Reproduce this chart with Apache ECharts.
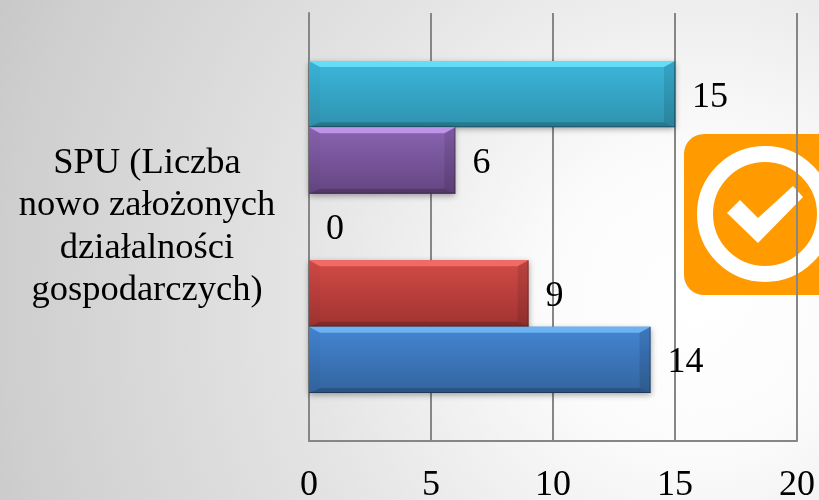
<!DOCTYPE html>
<html><head><meta charset="utf-8">
<style>html,body{margin:0;padding:0;background:#fff}#c{width:819px;height:500px}</style>
<script src="https://cdn.jsdelivr.net/npm/echarts@6/dist/echarts.min.js"></script>
</head><body><div id="c"></div>
<script>
const categories = ['SPU (Liczba\nnowo założonych\ndziałalności\ngospodarczych)'];
const seriesNames = ['Seria 5', 'Seria 4', 'Seria 3', 'Seria 2', 'Seria 1'];
const seriesValues = [[15], [6], [0], [9], [14]];
const tickValues = [0, 5, 10, 15, 20];
const bodyTop = ['#3cb7dc', '#8a64b2', '#9bbb59', '#d24b47', '#4485d3'];
const bodyBottom = ['#2f92ae', '#654580', '#76923c', '#a03331', '#33659e'];
const bevelTop = ['#62def7', '#bd94e8', '#c6e57e', '#f26a66', '#6cb2f3'];
const gapRatio = 0.224;
const font = '"Liberation Serif","Times New Roman",serif';
const chart = echarts.init(document.getElementById('c'), null, {renderer: 'canvas'});
const bevelData = [];
seriesValues.forEach((vals, s) => vals.forEach((v, c) => { if (v > 0) bevelData.push([v, c, s]); }));
function bevel(params, api) {
  const end = api.coord([api.value(0), api.value(1)]);
  const start = api.coord([0, api.value(1)]);
  const band = api.size([0, 1])[1];
  const h = band * (1 - gapRatio) / seriesValues.length;
  const s = api.value(2);
  const y1 = start[1] - band * (1 - gapRatio) / 2 + h * s;
  const y2 = y1 + h, x1 = start[0], x2 = end[0];
  const sx = 11, t = 6, b = 5;
  const poly = (points, fill) => ({type: 'polygon', shape: {points}, style: {fill}, silent: true});
  return {type: 'group', children: [
    poly([[x1, y1], [x2, y1], [x2 - sx, y1 + t], [x1 + sx, y1 + t]], bevelTop[s]),
    poly([[x1, y2], [x2, y2], [x2 - sx, y2 - b], [x1 + sx, y2 - b]], 'rgba(0,0,0,0.18)'),
    poly([[x1, y1], [x1 + sx, y1 + t], [x1 + sx, y2 - b], [x1, y2]], 'rgba(0,0,0,0.02)'),
    poly([[x2, y1], [x2 - sx, y1 + t], [x2 - sx, y2 - b], [x2, y2]], 'rgba(0,0,0,0.1)'),
    {type: 'rect', shape: {x: x1, y: y2 - 1, width: x2 - x1, height: 1}, style: {fill: 'rgba(0,0,0,0.3)'}, silent: true},
    {type: 'rect', shape: {x: x2 - 1, y: y1, width: 1, height: h}, style: {fill: 'rgba(0,0,0,0.3)'}, silent: true}
  ]};
}
chart.setOption({
  animation: false,
  backgroundColor: new echarts.graphic.RadialGradient(0.85, 0.6, 1.6, [
    {offset: 0, color: '#ffffff'}, {offset: 0.19, color: '#fbfbfb'},
    {offset: 0.5, color: '#e4e4e4'}, {offset: 0.87, color: '#cecece'}, {offset: 1, color: '#c4c4c4'}
  ]),
  grid: {left: 309, top: 13, width: 488, height: 428, containLabel: false, outerBoundsMode: 'none'},
  xAxis: {
    type: 'value', min: tickValues[0], max: tickValues[tickValues.length - 1], interval: 5,
    axisLine: {show: true, onZero: false, lineStyle: {color: '#868686', width: 2}},
    axisTick: {show: false},
    splitLine: {show: true, lineStyle: {color: '#868686', width: 2}},
    axisLabel: {color: '#000', fontFamily: font, fontSize: 36, margin: 27, hideOverlap: false, showMinLabel: true, showMaxLabel: true}
  },
  yAxis: {
    type: 'category', data: categories,
    axisLine: {show: true, lineStyle: {color: '#868686', width: 2}},
    axisTick: {show: false},
    axisLabel: {color: '#000', fontFamily: font, fontSize: 36.5, lineHeight: 42.5, align: 'center', margin: 162, interval: 0, padding: [12, 0, 0, 0]}
  },
  series: seriesValues.map((vals, i) => ({
    type: 'bar', name: seriesNames[i], data: vals, barGap: 0, barCategoryGap: (gapRatio * 100) + '%',
    itemStyle: {
      color: new echarts.graphic.LinearGradient(0, 0, 0, 1, [{offset: 0, color: bodyTop[i]}, {offset: 1, color: bodyBottom[i]}]),
      shadowBlur: 6, shadowColor: 'rgba(0,0,0,0.35)', shadowOffsetY: 2
    },
    label: {show: true, position: 'right', distance: 17, offset: [0, 3], color: '#000', fontFamily: font, fontSize: 36}
  })).concat([{
    type: 'custom', name: 'bevel', data: bevelData, renderItem: bevel, silent: true, z: 3,
    encode: {x: 0, y: 1}, tooltip: {show: false}, clip: false
  }]),
  graphic: [{
    type: 'group', z: 10, silent: true, children: [
      {type: 'rect', shape: {x: 684, y: 134, width: 170, height: 161, r: 20}, style: {fill: '#ff9b00'}},
      {type: 'circle', shape: {cx: 765, cy: 214, r: 60}, style: {fill: 'none', stroke: '#ffffff', lineWidth: 16}},
      {type: 'polygon', shape: {points: [[727, 213], [740, 200], [758, 218], [793, 186], [803, 197], [758, 243]]}, style: {fill: '#ffffff'}}
    ]
  }]
});
</script></body></html>
